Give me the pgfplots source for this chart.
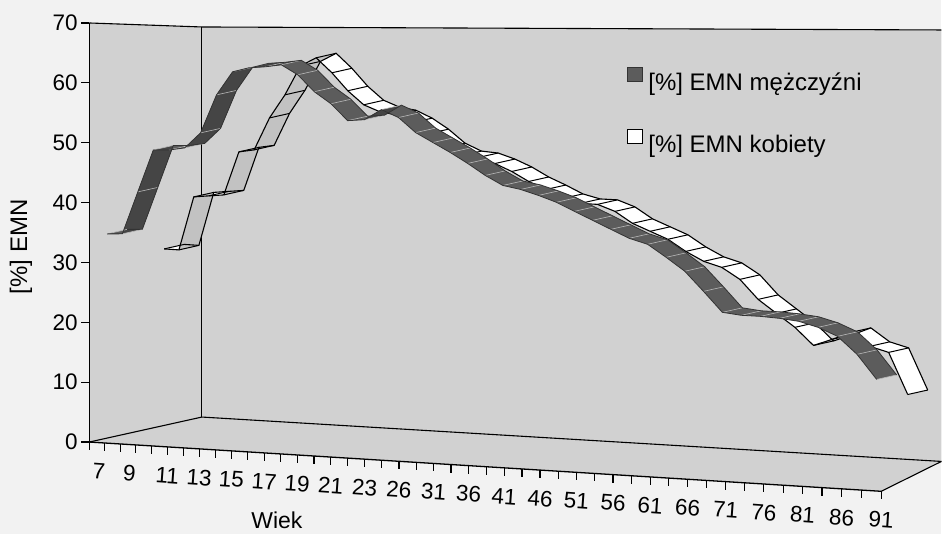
\documentclass[border=0pt]{standalone}
\usepackage{pgfplots}
\pgfplotsset{compat=1.18}
\usepackage{pgfplotstable}
\usepgfplotslibrary{fillbetween}
\usepackage{fontspec}
\setmainfont{Liberation Sans}

\definecolor{bgc}{gray}{0.95}
\definecolor{wall}{gray}{0.82}
\definecolor{menA}{gray}{0.36}
\definecolor{menB}{gray}{0.27}
\definecolor{womB}{gray}{0.76}

% category centre index c, EMN men, EMN women
\pgfplotstableread{
c men women
0.5 34.65 31.09
1.5 34.75 31.01
2.5 41.85 40.29
3.5 48.93 40.54
4.5 48.98 40.78
5.5 49.39 48.27
6.5 51.94 48.67
7.5 58.28 54.21
8.5 62.13 58.21
9.5 62.82 63.19
10.5 63.02 64.60
11.5 63.38 62.07
12.5 61.78 59.05
13.5 59.05 56.71
14.5 57.13 55.58
15.5 54.42 55.12
16.5 54.63 53.83
17.5 56.31 52.03
18.5 55.08 49.75
19.5 52.70 48.47
20.5 51.16 48.21
21.5 49.62 47.27
22.5 47.93 46.02
23.5 46.08 44.43
24.5 44.55 43.17
25.5 43.99 41.78
26.5 43.12 41.03
27.5 42.11 40.96
28.5 40.76 39.89
29.5 39.43 38.02
30.5 38.10 36.81
31.5 36.78 35.60
32.5 35.94 33.73
33.5 34.00 32.22
34.5 31.93 31.35
35.5 28.91 29.52
36.5 25.77 26.41
37.5 25.43 24.28
38.5 25.39 22.17
39.5 25.21 19.41
40.5 24.88 20.51
41.5 24.08 21.75
42.5 22.83 19.67
43.5 20.21 18.85
44.5 16.53 12.34
}\emn

\pgfplotstableread{
c lab
0.63 7
2.6 9
5 11
7 13
9 15
11 17
13 19
15 21
17 23
19 26
21 31
23 36
25 41
27 46
29 51
31 56
33 61
35 66
37 71
39 76
41 81
43 86
45 91
}\xlabs

\pgfplotstableread{
k one
0 1
1 1
2 1
3 1
4 1
5 1
6 1
7 1
8 1
9 1
10 1
11 1
12 1
13 1
14 1
15 1
16 1
17 1
18 1
19 1
20 1
21 1
22 1
23 1
24 1
25 1
26 1
27 1
28 1
29 1
30 1
31 1
32 1
33 1
34 1
35 1
36 1
37 1
38 1
39 1
40 1
41 1
42 1
43 1
44 1
45 1
}\xtk

\pgfplotstableread{
v lab
0 0
10 10
20 20
30 30
40 40
50 50
60 60
70 70
}\ylabs

\pgfplotsset{
  rows/.style 2 args={skip coords between index={0}{#1}, skip coords between index={#2}{1000}},
}

% #1 name, #2 column, #3 first row, #4 end row (excl.), #5 depth, #6 fill colour
\newcommand\seg[6]{%
  \addplot[draw=none, name path=#1f, forget plot, rows={#3}{#4}] table[x expr={Px(\thisrow{c},#5)}, y expr={Py(\thisrow{c},\thisrow{#2},#5)}]{\emn};
  \addplot[draw=none, name path=#1b, forget plot, rows={#3}{#4}] table[x expr={Px(\thisrow{c},#5)+20}, y expr={Py(\thisrow{c},\thisrow{#2},#5)-4.5}]{\emn};
  \addplot[fill=#6, draw=none, forget plot] fill between[of=#1f and #1b, on layer=main];
}

\begin{document}
\begin{tikzpicture}
\begin{axis}[
  scale only axis, width=942pt, height=534pt,
  xmin=0, xmax=942, ymin=0, ymax=534, y dir=reverse,
  axis lines=none, clip=false,
  declare function={
    Xf(\x)=89.3+15.357*\x+0.05*\x*\x;
    Ff(\x)=(15.357*\x+0.05*\x*\x)/792.4;
    Px(\x,\z)=Xf(\x)+\z*(112.7-1.164*\x);
    Yl(\x)=442.3+0.0622*(15.357*\x+0.05*\x*\x);
    Py(\x,\y,\z)=Yl(\x)-\z*(25+0.111*\x)-\y*((5.99+0.63*Ff(\x))*(1-\z)+(5.576+0.591*Ff(\x))*\z);
  },
  legend style={at={(axis cs:627,67)}, anchor=north west, draw=none, fill=none,
    inner sep=0pt, outer sep=0pt, row sep=33pt,
    nodes={inner sep=0pt, text height=18pt, text depth=5pt},
    font=\fontsize{24}{24}\selectfont,
    /tikz/every odd column/.append style={column sep=6pt}},
  legend cell align=left,
]
\addlegendimage{legend image code/.code={\draw[fill=menA, draw=black!80, line width=0.8pt] (0pt,3pt) rectangle (15pt,17pt);}}
\addlegendentry{{[\%] EMN mężczyźni}}
\addlegendimage{legend image code/.code={\draw[fill=white, draw=black, line width=0.8pt] (0pt,3pt) rectangle (15pt,17pt);}}
\addlegendentry{{[\%] EMN kobiety}}

% background and walls
\addplot[fill=bgc, draw=none, forget plot] coordinates {(0,0) (942,0) (942,534) (0,534)} -- cycle;
\addplot[fill=wall, draw=none, forget plot] coordinates {(89.3,23) (202,27) (202,417.3) (89.3,442.3)} -- cycle;
\addplot[fill=wall, draw=none, forget plot] coordinates {(202,27) (942,30) (942,461.7) (202,417.3)} -- cycle;
\addplot[fill=wall, draw=none, forget plot] coordinates {(89.3,442.3) (202,417.3) (942,461.7) (881.7,491.6)} -- cycle;
\addplot[black, line width=1.1pt, forget plot] coordinates {(89.3,23) (202,27) (942,30)};
\addplot[black, line width=1.1pt, forget plot] coordinates {(202,27) (202,417.3)};
\addplot[black, line width=1.1pt, forget plot] coordinates {(89.3,442.3) (202,417.3) (942,461.7)};
\addplot[black, line width=1.1pt, forget plot] coordinates {(881.7,491.6) (942,461.7)};
\addplot[black, line width=1.3pt, forget plot] coordinates {(89.3,23) (89.3,442.3)};
\addplot[black, line width=1.3pt, forget plot] coordinates {(89.3,442.3) (881.7,491.6)};

% axis ticks
\addplot[black, line width=1.2pt, forget plot, quiver={u=-8, v=0}] table[x expr=89.3, y expr={442.3-5.99*\thisrow{v}}]{\ylabs};
\addplot[black, line width=1.2pt, forget plot, quiver={u=0, v=8}] table[x expr={Xf(\thisrow{k})}, y expr={Yl(\thisrow{k})}]{\xtk};

% tick labels
\addplot[draw=none, mark=none, forget plot, nodes near coords, point meta=explicit symbolic,
  every node near coord/.append style={anchor=east, inner sep=0pt, font=\fontsize{22.5}{22.5}\selectfont}]
  table[x expr=78, y expr={442.3-5.99*\thisrow{v}}, meta=lab]{\ylabs};
\addplot[draw=none, mark=none, forget plot, nodes near coords, point meta=explicit symbolic,
  every node near coord/.append style={anchor=center, rotate=-4, inner sep=0pt, font=\fontsize{22.5}{22.5}\selectfont}]
  table[x expr={Xf(\thisrow{c})}, y expr={Yl(\thisrow{c})+28.5}, meta=lab]{\xlabs};

% women ribbon (back row)
\seg{wall}{women}{0}{1000}{0.6}{white}
\seg{wr1}{women}{1}{3}{0.6}{womB}
\seg{wr2}{women}{4}{6}{0.6}{womB}
\seg{wr3}{women}{6}{11}{0.6}{womB}
\addplot[black, line width=1.1pt, forget plot] table[x expr={Px(\thisrow{c},0.6)}, y expr={Py(\thisrow{c},\thisrow{women},0.6)}]{\emn};
\addplot[black, line width=1.1pt, forget plot] table[x expr={Px(\thisrow{c},0.6)+20}, y expr={Py(\thisrow{c},\thisrow{women},0.6)-4.5}]{\emn};
\addplot[black, line width=1pt, forget plot, quiver={u=20, v=-4.5}] table[x expr={Px(\thisrow{c},0.6)}, y expr={Py(\thisrow{c},\thisrow{women},0.6)}]{\emn};

% men ribbon (front row)
\seg{mall}{men}{0}{1000}{0.09}{menA}
\seg{mr1}{men}{1}{4}{0.09}{menB}
\seg{mr2}{men}{5}{12}{0.09}{menB}
\seg{mr3}{men}{16}{18}{0.09}{menB}
\addplot[gray!55, line width=0.6pt, forget plot, quiver={u=20, v=-4.5}] table[x expr={Px(\thisrow{c},0.09)}, y expr={Py(\thisrow{c},\thisrow{men},0.09)}]{\emn};
\addplot[black!80, line width=0.8pt, forget plot] table[x expr={Px(\thisrow{c},0.09)}, y expr={Py(\thisrow{c},\thisrow{men},0.09)}]{\emn};
\addplot[black!80, line width=0.8pt, forget plot] table[x expr={Px(\thisrow{c},0.09)+20}, y expr={Py(\thisrow{c},\thisrow{men},0.09)-4.5}]{\emn};

% axis titles
\node[rotate=90, inner sep=0pt, font=\fontsize{24}{24}\selectfont] at (axis cs:21,247) {[\%] EMN};
\node[inner sep=0pt, anchor=base, font=\fontsize{23}{23}\selectfont] at (axis cs:277,529) {Wiek};
\end{axis}
\end{tikzpicture}
\end{document}
